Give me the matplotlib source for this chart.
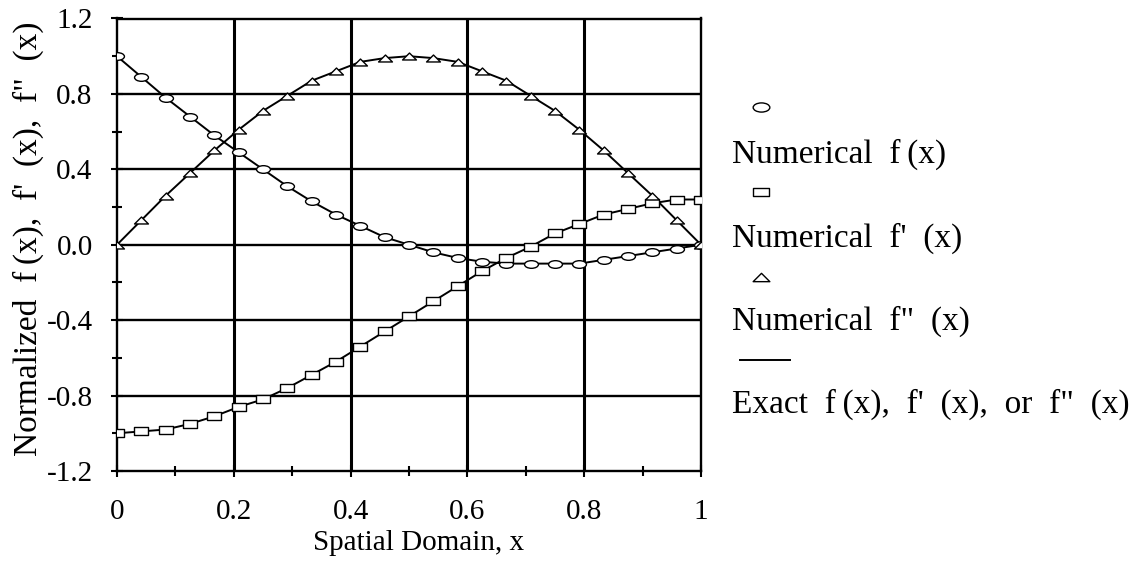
import numpy as np
import matplotlib
matplotlib.use("Agg")
import matplotlib.pyplot as plt
from matplotlib.path import Path
from matplotlib.transforms import Affine2D
from matplotlib.lines import Line2D
from matplotlib.ticker import MultipleLocator

plt.rcParams['font.family'] = ['Liberation Serif', 'DejaVu Serif']

# Grid nodes on the spatial domain (25 nodes, spacing 1/24)
x_nodes = np.arange(25) / 24.0

f_vals = [1.00, 0.89, 0.78, 0.68, 0.58, 0.49, 0.40, 0.31, 0.23, 0.16, 0.10, 0.04,
          0.00, -0.04, -0.07, -0.09, -0.10, -0.10, -0.10, -0.10, -0.08, -0.06,
          -0.04, -0.02, 0.00]
fp_vals = [-1.00, -0.99, -0.98, -0.95, -0.91, -0.86, -0.82, -0.76, -0.69, -0.62,
           -0.54, -0.46, -0.38, -0.30, -0.22, -0.14, -0.07, -0.01, 0.06, 0.11,
           0.16, 0.19, 0.22, 0.24, 0.24]
fpp_vals = [0.00, 0.13, 0.26, 0.38, 0.50, 0.61, 0.71, 0.79, 0.87, 0.92, 0.97, 0.99,
            1.00, 0.99, 0.97, 0.92, 0.87, 0.79, 0.71, 0.61, 0.50, 0.38, 0.26, 0.13,
            0.00]

x_ticks = [0, 0.2, 0.4, 0.6, 0.8, 1.0]
x_ticklabels = ['0', '0.2', '0.4', '0.6', '0.8', '1']
y_ticks = [-1.2, -0.8, -0.4, 0.0, 0.4, 0.8, 1.2]
y_ticklabels = ['-1.2', '-0.8', '-0.4', '0.0', '0.4', '0.8', '1.2']

y_title = 'Normalized  f\u2009(x),  f\'  (x),  f"  (x)'
x_title = 'Spatial Domain, x'
legend_labels = ['Numerical  f\u2009(x)', "Numerical  f'  (x)", 'Numerical  f"  (x)',
                 'Exact  f\u2009(x),  f\'  (x),  or  f"  (x)']

# Flattened marker shapes
ellipse = Path.unit_circle().transformed(Affine2D().scale(1.0, 0.55))
rect = Path([(-1, -0.5), (1, -0.5), (1, 0.5), (-1, 0.5), (-1, -0.5)],
            [Path.MOVETO, Path.LINETO, Path.LINETO, Path.LINETO, Path.CLOSEPOLY])
tri = Path([(-1, -0.5), (1, -0.5), (0, 0.5), (-1, -0.5)],
           [Path.MOVETO, Path.LINETO, Path.LINETO, Path.CLOSEPOLY])

W, H = 1134.0, 567.0
fig = plt.figure(figsize=(W / 100, H / 100), dpi=100)
ax_l, ax_r, ax_t, ax_b = 117, 701, 18.5, 471
ax = fig.add_axes([ax_l / W, 1 - ax_b / H, (ax_r - ax_l) / W, (ax_b - ax_t) / H])

lw = 1.4
mk = dict(linestyle='none', markerfacecolor='white', markeredgecolor='black',
          markeredgewidth=1.0, zorder=4)

# Exact solutions
for vals in (f_vals, fp_vals, fpp_vals):
    ax.plot(x_nodes, vals, color='black', lw=lw, zorder=3)

# Numerical solutions
ax.plot(x_nodes, f_vals, marker=ellipse, markersize=10, **mk)
ax.plot(x_nodes, fp_vals, marker=rect, markersize=10.5, **mk)
ax.plot(x_nodes, fpp_vals, marker=tri, markersize=10, **mk)

ax.set_xlim(0, 1)
ax.set_ylim(-1.2, 1.2)
ax.set_xticks(x_ticks)
ax.set_xticklabels(x_ticklabels)
ax.set_yticks(y_ticks)
ax.set_yticklabels(y_ticklabels)
ax.xaxis.set_minor_locator(MultipleLocator(0.1))
ax.yaxis.set_minor_locator(MultipleLocator(0.2))

ax.tick_params(axis='both', which='major', direction='inout', length=9, width=1.5,
               labelsize=21, top=False, right=False)
ax.tick_params(axis='both', which='minor', direction='inout', length=7, width=1.5,
               top=False, right=False)
ax.tick_params(axis='x', which='major', pad=16)
ax.tick_params(axis='y', which='major', pad=13)

for x in x_ticks[1:-1]:
    ax.axvline(x, color='black', lw=2.2, zorder=1)
for y in y_ticks[1:-1]:
    ax.axhline(y, color='black', lw=1.7, zorder=1)

for s in ax.spines.values():
    s.set_linewidth(1.7)
    s.set_color('black')

ax.set_xlabel(x_title, fontsize=21, va='center')
ax.xaxis.set_label_coords((419 - ax_l) / (ax_r - ax_l), (ax_b - 543) / (ax_b - ax_t))
ax.set_ylabel(y_title, fontsize=24, va='center')
ax.yaxis.set_label_coords((28 - ax_l) / (ax_r - ax_l), (ax_b - 239) / (ax_b - ax_t))


# Legend: marker sample on one row, description on the row below
def fx(px):
    return px / W


def fy(py):
    return 1 - py / H


legend_markers = [(ellipse, 107), (rect, 192), (tri, 277)]
for mpath, py in legend_markers:
    fig.add_artist(Line2D([fx(761)], [fy(py)], marker=mpath, markersize=12,
                          transform=fig.transFigure, **mk))
fig.add_artist(Line2D([fx(740), fx(790)], [fy(360), fy(360)], color='black',
                      lw=lw, transform=fig.transFigure))

for label, py in zip(legend_labels, [163, 247, 330, 413]):
    fig.text(fx(732), fy(py), label, fontsize=24, va='baseline', ha='left')

fig.savefig('out.png', dpi=100)
